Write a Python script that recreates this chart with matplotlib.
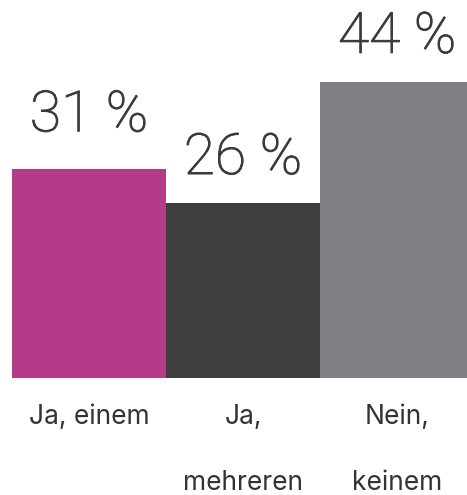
import matplotlib
matplotlib.use('Agg')
import matplotlib.pyplot as plt
import matplotlib.patheffects as pe

# Daten
categories = ['Ja, einem', 'Ja,\nmehreren', 'Nein,\nkeinem']
values = [31, 26, 44]
colors = ['#b33b87', '#3e3e3e', '#808185']

fig = plt.figure(figsize=(4.67, 4.95), dpi=100)
# Achse: links 12px, unten bei y=378px, oben bis Bildrand (3. Balken ragt rechts etwas raus)
ax = fig.add_axes([12 / 467, 117 / 495, 462 / 467, 378 / 495])

x = range(len(values))
ax.bar(x, values, width=1.0, color=colors)
ax.set_xlim(-0.5, len(values) - 0.5)
ax.set_ylim(0, 378 / 6.73)
ax.axis('off')

# Wertbeschriftungen (Light etwas dicker machen)
for i, v in enumerate(values):
    off = 38 if i == 0 else 29
    ax.annotate(f'{v} %', (i, v), xytext=(0, off), textcoords='offset pixels',
                ha='center', va='baseline', fontsize=41, family='Roboto',
                fontweight='light', color='#3a3a3a', annotation_clip=False,
                path_effects=[pe.withStroke(linewidth=0.7, foreground='#3a3a3a')])

# Kategorien unter den Balken
for i, c in enumerate(categories):
    ax.annotate(c, (i, 0), xytext=(0, -26), textcoords='offset pixels',
                ha='center', va='top', fontsize=19, family='Inter',
                color='#333333', linespacing=3.0, annotation_clip=False)

fig.savefig('out.png', dpi=100)
